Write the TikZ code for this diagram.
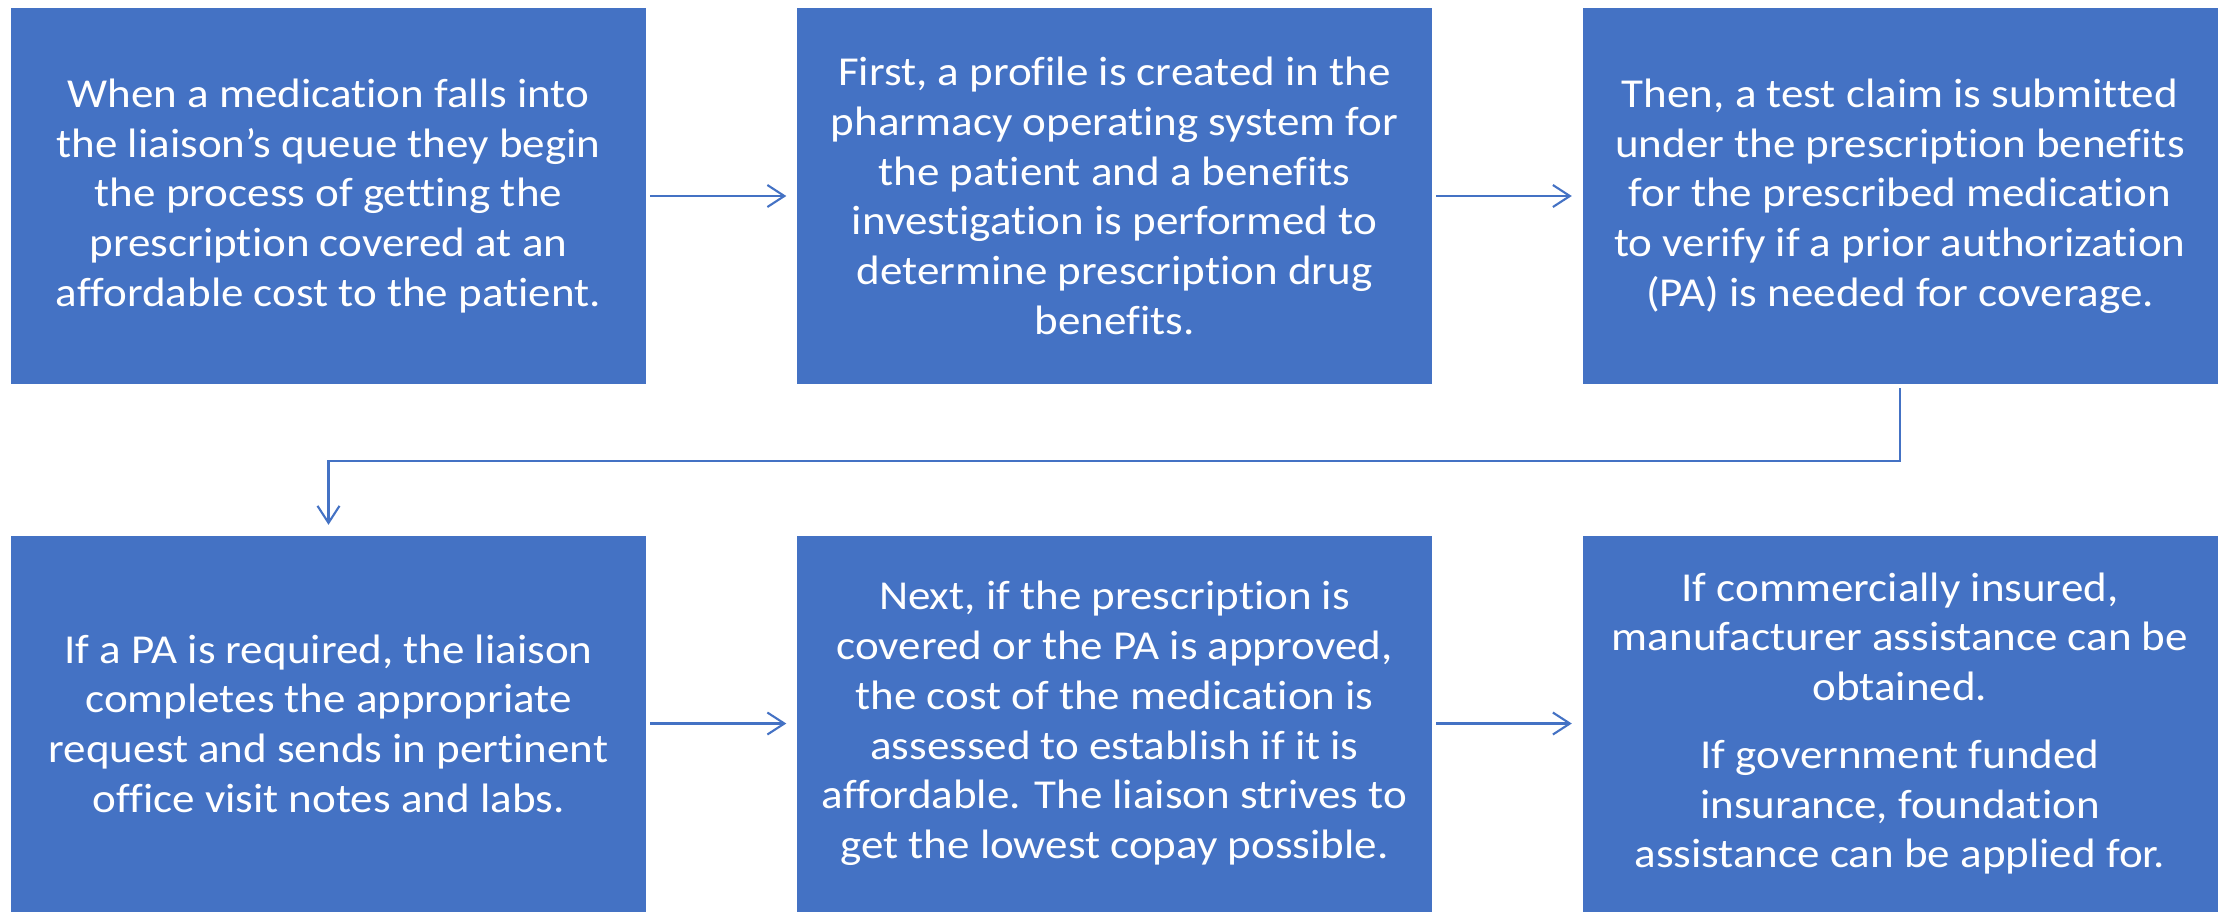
\documentclass[tikz,border=0pt]{standalone}
\usepackage{fontspec}
\setmainfont{Carlito}[FakeStretch=1.095, RawFeature=-liga]
\usetikzlibrary{arrows.meta}
\definecolor{stepblue}{HTML}{4472C4}
\tikzset{
	stepbox/.style={fill=stepblue, draw=none, minimum width=6.35cm, minimum height=3.76cm, inner sep=0pt, text=white, align=center, font=\fontsize{11.7}{14.15}\selectfont},
	flow/.style={draw=stepblue, line width=0.6pt, -{Straight Barb[length=0.17cm, width=0.22cm, line width=0.6pt]}, shorten <=0.035cm, shorten >=0.1cm}
}

\begin{document}
\begin{tikzpicture}
		%%%%% START %%%%%
		\useasboundingbox (0, 0) rectangle (22.26, -9.14);
		
		\node[stepbox] (liaison) at (3.285, -1.96) {When a medication falls into\\the liaison’s queue they begin\\the process of getting the\\prescription covered at an\\affordable cost to the patient.};
		\node[stepbox] (profile) at (11.145, -1.96) {First, a profile is created in the\\pharmacy operating system for\\the patient and a benefits\\investigation is performed to\\determine prescription drug\\benefits.};
		\node[stepbox] (claim) at (19.00, -1.96) {Then, a test claim is submitted\\under the prescription benefits\\for the prescribed medication\\to verify if a prior authorization\\(PA) is needed for coverage.};
		
		\node[stepbox] (request) at (3.285, -7.235) {If a PA is required, the liaison\\completes the appropriate\\request and sends in pertinent\\office visit notes and labs.};
		\node[stepbox] (cost) at (11.145, -7.235) {Next, if the prescription is\\covered or the PA is approved,\\the cost of the medication is\\assessed to establish if it is\\affordable. The liaison strives to\\get the lowest copay possible.};
		\node[stepbox] (assist) at (19.00, -7.235) {If commercially insured,\\manufacturer assistance can be\\obtained.\\[0.18cm]If government funded\\insurance, foundation\\assistance can be applied for.};
		
		\draw[flow] (liaison) -- (profile);
		\draw[flow] (profile) -- (claim);
		\draw[flow] (claim.south) -- ++(0, -0.76) -| (request.north);
		\draw[flow] (request) -- (cost);
		\draw[flow] (cost) -- (assist);
		
		%%%%% END %%%%%
	\end{tikzpicture}
\end{document}
